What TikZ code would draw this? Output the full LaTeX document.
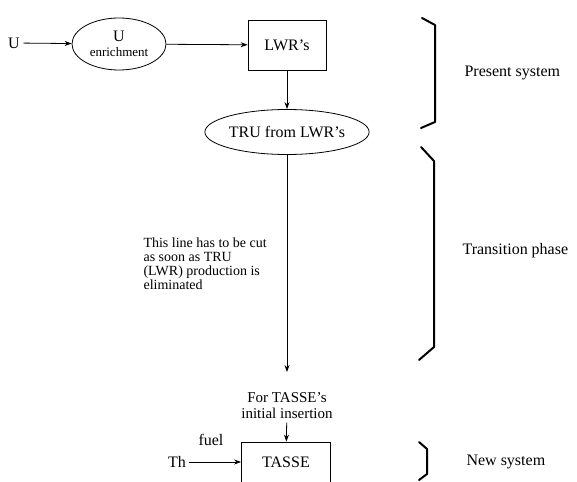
\documentclass[tikz,border=0pt]{standalone}
\usepackage{fontspec}
\setmainfont{Liberation Serif}
\usetikzlibrary{positioning,arrows.meta,shapes.geometric}

\begin{document}
\begin{tikzpicture}[x=1pt,y=-1pt,
  flow/.style={-{Stealth[length=7pt,width=5pt]}, line width=0.8pt},
  oval/.style={ellipse, draw, line width=0.8pt, inner sep=0pt},
  unit/.style={rectangle, draw, line width=0.8pt},
  brace/.style={line width=2pt, line cap=round, line join=round},
  lbl/.style={font=\fontsize{16}{18}\selectfont},
  note/.style={font=\fontsize{14}{14}\selectfont, align=left}]
  \useasboundingbox (0,0) rectangle (577,481);

  % main chain
  \node[lbl] (u) at (14,43) {U};
  \node[oval, minimum width=94pt, minimum height=52pt, align=center, lbl] (enrich) at (119,44) {U\\[-3pt]{\fontsize{13}{14}\selectfont enrichment}};
  \node[unit, minimum width=78pt, minimum height=50pt, lbl] (lwr) at (287,45) {LWR's};
  \node[oval, minimum width=150pt, minimum height=45pt, lbl] (tru) at (287,132) {TRU from LWR's};
  \coordinate (cut) at (287,372);
  \node[note, anchor=north west] (remark) at (140,234) {This line has to be cut\\as soon as TRU\\(LWR) production is\\eliminated};

  % new system
  \node[align=center, font=\fontsize{15}{16}\selectfont] (insert) at (287,406) {For TASSE's\\initial insertion};
  \node[unit, minimum width=89pt, minimum height=40pt, lbl] (tasse) at (286,462) {TASSE};
  \node[lbl] (th) at (177,462) {Th};
  \node[lbl] (fuel) at (211,440) {fuel};

  \draw[flow] (u) -- (enrich);
  \draw[flow] (enrich) -- (lwr);
  \draw[flow] (lwr) -- (tru);
  \draw[flow] (tru) -- (cut);
  \draw[flow] (insert) -- (tasse);
  \draw[flow] (th) -- (tasse);

  % phases
  \draw[brace] (422,18) -- (435,25) -- (435,122) -- (421,128);
  \node[lbl, anchor=west] (present) at (461,73) {Present system};
  \draw[brace] (421,147) -- (434,161) -- (434,347) -- (419,360);
  \node[lbl, anchor=west] (transition) at (459,251) {Transition phase};
  \draw[brace] (419,442) -- (427,449) -- (427,474) -- (419,480);
  \node[lbl, anchor=west] (newsys) at (463,462) {New system};
\end{tikzpicture}
\end{document}
